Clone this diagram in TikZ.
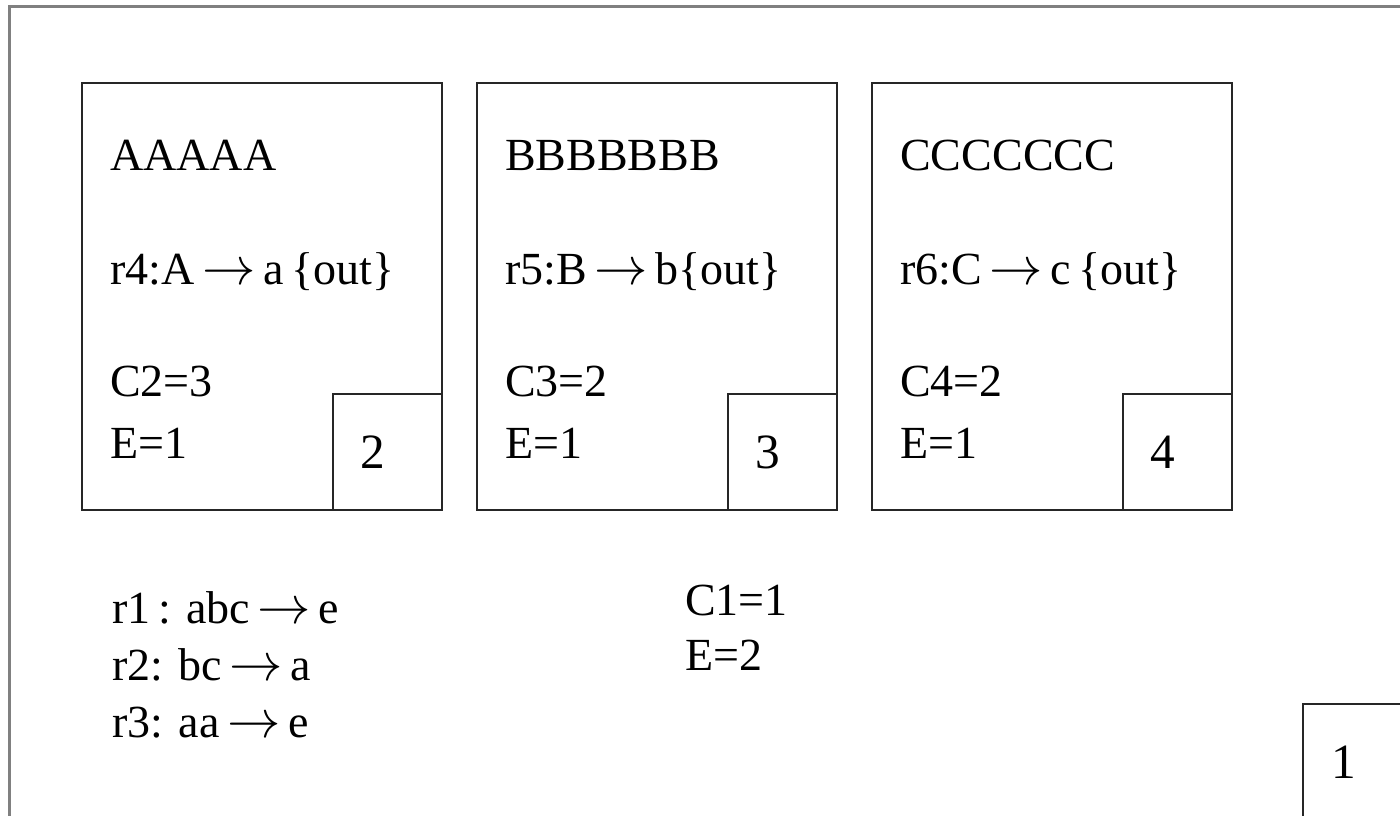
\RequirePackage{fix-cm}
\documentclass[tikz,border=0pt]{standalone}
\usepackage{fontspec}
\setmainfont{Liberation Serif}
\newcommand{\arr}{{\fontsize{40}{40}\selectfont$\rightarrow$}}
\begin{document}
\begin{tikzpicture}[x=0.75pt,y=-0.75pt,
  frame/.style={draw=black!50,line width=1.6pt},
  membrane/.style={draw=black!85,line width=1.1pt},
  lbl/.style={anchor=base west,inner sep=0pt,font=\fontsize{34.5}{40}\selectfont},
  num/.style={anchor=base,inner sep=0pt,font=\fontsize{37}{40}\selectfont}]
\clip (0,0) rectangle (1400,815);
\fill[white] (0,0) rectangle (1400,815);
% outer membrane (skin)
\draw[frame] (9.5,6.5) rectangle (1420,840);
% inner membranes
\foreach \x in {0,395,790}{
  \draw[membrane] (82+\x,83) rectangle (442+\x,510);
  \draw[membrane] (333+\x,394) rectangle (442+\x,510);
}
% label box of skin
\draw[membrane] (1303,704) rectangle (1420,840);
% membrane 2
\node[lbl] (a1) at (110,170) {AAAAA};
\node[lbl] (a2) at (110,284) {r4:A\,\arr\,a\,\{out\}};
\node[lbl] (a3) at (110,396) {C2=3};
\node[lbl] (a4) at (110,458) {E=1};
\node[num] (n2) at (373,468) {2};
% membrane 3
\node[lbl] (b1) at (505,170) {BBBBBBB};
\node[lbl] (b2) at (505,284) {r5:B\,\arr\,b\{out\}};
\node[lbl] (b3) at (505,396) {C3=2};
\node[lbl] (b4) at (505,458) {E=1};
\node[num] (n3) at (768,468) {3};
% membrane 4
\node[lbl] (c1) at (900,170) {CCCCCCC};
\node[lbl] (c2) at (900,284) {r6:C\,\arr\,c\,\{out\}};
\node[lbl] (c3) at (900,396) {C4=2};
\node[lbl] (c4) at (900,458) {E=1};
\node[num] (n4) at (1163,468) {4};
% skin contents
\node[lbl] (r1) at (112,623) {r1\,: abc\,\arr\,e};
\node[lbl] (r2) at (112,680) {r2: bc\,\arr\,a};
\node[lbl] (r3) at (112,737) {r3: aa\,\arr\,e};
\node[lbl] (s1) at (685,615) {C1=1};
\node[lbl] (s2) at (685,670) {E=2};
\node[num] (n1) at (1344,778) {1};
\end{tikzpicture}
\end{document}
